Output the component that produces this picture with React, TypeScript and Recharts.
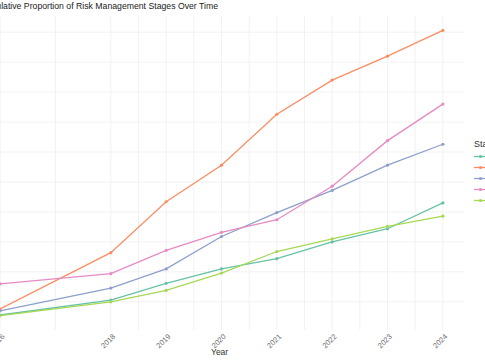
// Cumulative proportion of risk management stages (ggplot-style, cropped view)
import { LineChart, Line, XAxis, YAxis, ReferenceLine } from 'recharts';

const years = [2016, 2018, 2019, 2020, 2021, 2022, 2023, 2024];

const assessment = [0.028, 0.053, 0.081, 0.105, 0.122, 0.15, 0.172, 0.215];
const identification = [0.038, 0.132, 0.217, 0.278, 0.363, 0.42, 0.46, 0.503];
const mitigation = [0.035, 0.073, 0.105, 0.159, 0.199, 0.236, 0.278, 0.313];
const monitoring = [0.08, 0.097, 0.136, 0.166, 0.187, 0.243, 0.319, 0.38];
const reporting = [0.027, 0.05, 0.069, 0.098, 0.134, 0.155, 0.176, 0.193];

const stageNames = ['Assessment', 'Identification', 'Mitigation', 'Monitoring', 'Reporting'];
const stageColors = ['#66C2A5', '#FC8D62', '#8DA0CB', '#E78AC3', '#A6D854'];
const stageValues = [assessment, identification, mitigation, monitoring, reporting];

// grid lines (major at the data years, minor in between)
const gridYears = [2016, 2017, 2018, 2018.5, 2019, 2019.5, 2020, 2020.5, 2021, 2021.5, 2022, 2022.5, 2023, 2023.5, 2024];
const gridValues = [0.05, 0.1, 0.15, 0.2, 0.25, 0.3, 0.35, 0.4, 0.45, 0.5];

const FONT = '"Liberation Sans", Arial, sans-serif';

function YearTick({ x, y, payload }: { x?: number; y?: number; payload?: { value: number } }) {
  return (
    <text
      x={0}
      y={0}
      transform={`translate(${(x ?? 0) + 5},${(y ?? 0) - 1}) rotate(-45)`}
      textAnchor="end"
      fontSize={7.5}
      fill="#6e6e6e"
      fontFamily={FONT}
    >
      {payload?.value}
    </text>
  );
}

export default function App() {
  const chartData = years.map((year, i) => {
    const point: Record<string, number> = { year };
    stageNames.forEach((name, s) => {
      point[name] = stageValues[s][i];
    });
    return point;
  });

  return (
    <div
      style={{
        position: 'fixed',
        left: 0,
        top: 0,
        width: 485,
        height: 360,
        overflow: 'hidden',
        background: '#fff',
        fontFamily: FONT,
      }}
    >
      <div style={{ position: 'absolute', left: -22, top: 1, fontSize: 8.7, color: '#1a1a1a', whiteSpace: 'nowrap' }}>
        Cumulative Proportion of Risk Management Stages Over Time
      </div>

      <div style={{ position: 'absolute', left: -22, top: 16 }}>
        <LineChart width={487} height={344} data={chartData} margin={{ top: 0, right: 0, bottom: 0, left: 0 }}>
          <XAxis
            dataKey="year"
            type="number"
            domain={[2015.6, 2024.4]}
            allowDataOverflow
            ticks={years}
            interval={0}
            axisLine={false}
            tickLine={false}
            height={30}
            tick={<YearTick />}
          />
          <YAxis hide type="number" domain={[0.003, 0.527]} allowDataOverflow />
          {gridYears.map((g) => (
            <ReferenceLine key={`x${g}`} x={g} stroke="#efefef" strokeWidth={0.8} />
          ))}
          {gridValues.map((g) => (
            <ReferenceLine key={`y${g}`} y={g} stroke="#efefef" strokeWidth={0.8} />
          ))}
          {stageNames.map((name, s) => (
            <Line
              key={name}
              type="linear"
              dataKey={name}
              stroke={stageColors[s]}
              strokeWidth={1.3}
              dot={{ r: 1.6, fill: stageColors[s], stroke: stageColors[s], strokeWidth: 0 }}
              isAnimationActive={false}
            />
          ))}
        </LineChart>
      </div>

      <div style={{ position: 'absolute', left: 211, top: 347, fontSize: 8.5, color: '#333' }}>Year</div>

      <div style={{ position: 'absolute', left: 474, top: 139 }}>
        <div style={{ fontSize: 9, color: '#333', marginBottom: 2 }}>Stage</div>
        {stageNames.map((name, s) => (
          <div key={name} style={{ display: 'flex', alignItems: 'center', height: 11.1, whiteSpace: 'nowrap' }}>
            <svg width={13} height={11} style={{ flex: 'none' }}>
              <line x1={0} y1={5.5} x2={13} y2={5.5} stroke={stageColors[s]} strokeWidth={1.3} />
              <circle cx={6.5} cy={5.5} r={1.6} fill={stageColors[s]} />
            </svg>
            <span style={{ fontSize: 8, color: '#333', marginLeft: 4 }}>{name}</span>
          </div>
        ))}
      </div>
    </div>
  );
}
